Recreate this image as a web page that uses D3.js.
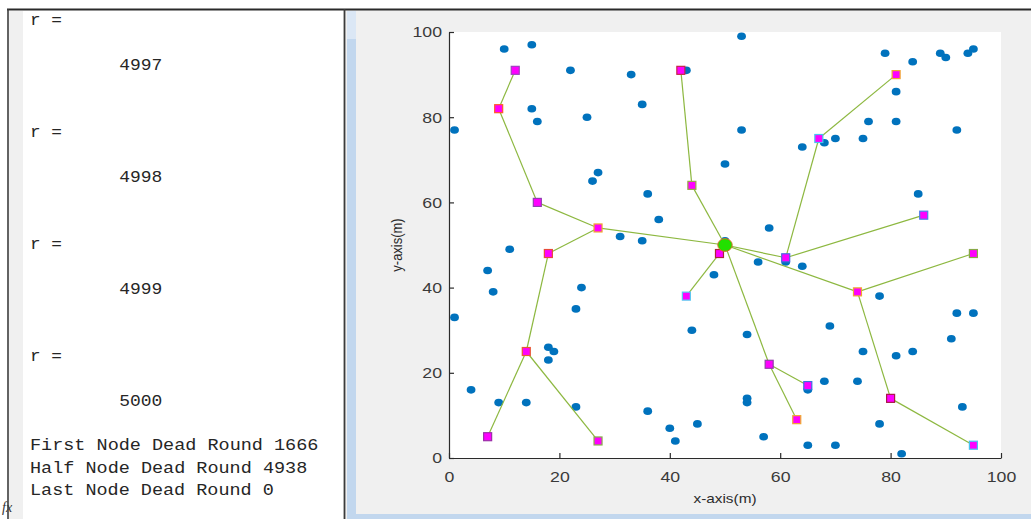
<!DOCTYPE html>
<html>
<head>
<meta charset="utf-8">
<script src="https://cdn.jsdelivr.net/npm/d3@7"></script>
<style>
  html, body { margin: 0; padding: 0; background: #fff; overflow: hidden; }
  svg { display: block; }
</style>
</head>
<body>
<script>
// sensor nodes (blue dots)
var nodeX = [10, 15, 22, 33, 43, 53, 15, 16, 25, 1, 35, 27, 26, 53, 64, 50, 36, 38, 31, 35, 58,
             79, 84, 89, 90, 94, 95, 81, 76, 81, 92, 68, 70, 75, 85, 11, 7, 8, 24, 23, 1, 18, 19, 18,
             4, 9, 14, 23, 56, 64, 48, 44, 54, 54, 54, 36, 40, 45, 41, 57, 65, 65, 78, 92, 95, 69,
             91, 75, 81, 84, 68, 74, 93, 78, 70, 82, 50, 61];
var nodeY = [96, 97, 91, 90, 91, 99, 82, 79, 80, 77, 83, 67, 65, 77, 73, 69, 62, 56, 52, 51, 54,
             95, 93, 95, 94, 95, 96, 86, 79, 79, 77, 74, 75, 75, 62, 49, 44, 39, 40, 35, 33, 26, 25, 23,
             16, 13, 13, 12, 46, 45, 43, 30, 29, 14, 13, 11, 7, 8, 4, 5, 3, 16, 38, 34, 34, 31,
             28, 25, 24, 25, 18, 18, 12, 8, 3, 1, 51, 46];

// cluster heads (magenta squares)
var chX = [12, 9, 16, 27, 18, 14, 7, 27, 42, 44, 81, 67, 61, 86, 74, 95, 80, 95, 58, 65, 63, 49, 43];
var chY = [91, 82, 60, 54, 48, 25, 5, 4, 91, 64, 90, 75, 47, 57, 39, 48, 14, 3, 22, 17, 9, 48, 38];

// base station
var sinkX = 50, sinkY = 50;

// routing links between cluster heads, "S" = base station
var links = [[0, 1], [1, 2], [2, 3], [3, "S"], [3, 4], [4, 5], [5, 6], [5, 7],
             [8, 9], [9, "S"], [10, 11], [11, 12], [12, "S"], [12, 13],
             [14, "S"], [14, 15], [14, 16], [16, 17],
             [18, "S"], [18, 19], [18, 20], [21, "S"], [21, 22]];

var xTicks = [0, 20, 40, 60, 80, 100];
var yTicks = [0, 20, 40, 60, 80, 100];

// command window text, one entry per line
var consoleLines = ["r =", "", "        4997", "", "", "r =", "", "        4998", "", "",
                    "r =", "", "        4999", "", "", "r =", "", "        5000", "",
                    "First Node Dead Round 1666", "Half Node Dead Round 4938", "Last Node Dead Round 0"];

// marker edge colours of the cluster heads
var chEdge = ["#a040c0", "#ff5a2a", "#9040b0", "#f0a830", "#e84a3a", "#e85a30", "#9a30a8", "#88b048",
              "#c42848", "#98a848", "#f0a830", "#48c4f0", "#4a6ae0", "#4a80e8", "#f0a830", "#88a848",
              "#a81848", "#48c4f0", "#9040a8", "#3a72e0", "#f0a830", "#a82838", "#58c8f0"];

var W = 1031, H = 519;
var svg = d3.select("body").append("svg").attr("width", W).attr("height", H);

svg.append("rect").attr("width", W).attr("height", H).attr("fill", "#fff");

// ---- command window panel ----
svg.append("rect").attr("x", 9).attr("y", 11).attr("width", 14).attr("height", H - 11).attr("fill", "#f0f0f0");

var charW = 11.15;
var shown = consoleLines
    .map(function(t, i) { return { t: t, row: i }; })
    .filter(function(d) { return d.t.trim().length > 0; });

svg.append("g").selectAll("text")
    .data(shown)
    .enter().append("text")
    .attr("x", function(d) { return 30 + (d.t.length - d.t.trimStart().length) * charW; })
    .attr("y", function(d) { return 19 + d.row * 22.4; })
    .attr("dy", "0.36em")
    .attr("font-family", "'Liberation Mono', 'DejaVu Sans Mono', monospace")
    .attr("font-size", 16)
    .attr("fill", "#262626")
    .attr("textLength", function(d) { return d.t.trim().length * charW - 1.5; })
    .attr("lengthAdjust", "spacingAndGlyphs")
    .text(function(d) { return d.t.trim(); });

svg.append("text")
    .attr("x", 2).attr("y", 512)
    .attr("font-family", "'Liberation Serif', serif")
    .attr("font-style", "italic")
    .attr("font-size", 14)
    .attr("fill", "#333")
    .text("fx");

// ---- figure panel ----
svg.append("rect").attr("x", 345).attr("y", 10).attr("width", W - 345).attr("height", H - 10).attr("fill", "#f0f0f0");
svg.append("rect").attr("x", 347).attr("y", 11).attr("width", 9).attr("height", H - 11).attr("fill", "#c2d7ee");
svg.append("rect").attr("x", 347).attr("y", 11).attr("width", 9).attr("height", 28).attr("fill", "#dbe7f5");
svg.append("rect").attr("x", 347).attr("y", 514).attr("width", W - 347).attr("height", 5).attr("fill", "#c2d7ee");

// frame lines
svg.append("line").attr("x1", 7).attr("x2", W).attr("y1", 9.5).attr("y2", 9.5).attr("stroke", "#2a2a2a").attr("stroke-width", 2);
svg.append("line").attr("x1", 8).attr("x2", 8).attr("y1", 9).attr("y2", H).attr("stroke", "#3c3c3c").attr("stroke-width", 1.6);
svg.append("line").attr("x1", 344.5).attr("x2", 344.5).attr("y1", 9).attr("y2", H).attr("stroke", "#3c3c3c").attr("stroke-width", 1.8);

// plot area
var x = d3.scaleLinear().domain([0, 100]).range([449, 1001]);
var y = d3.scaleLinear().domain([0, 100]).range([458, 32]);

svg.append("rect").attr("x", 449).attr("y", 32).attr("width", 552).attr("height", 426).attr("fill", "#fff");

var stretch = 1.18;
function widen(sel) {
    sel.selectAll("text").each(function() {
        var w = this.getComputedTextLength();
        d3.select(this).attr("textLength", w * stretch).attr("lengthAdjust", "spacingAndGlyphs");
    });
}

var xAxis = svg.append("g")
    .attr("transform", "translate(0," + 458 + ")")
    .call(d3.axisBottom(x).tickValues(xTicks).tickSizeInner(-5).tickSizeOuter(0).tickPadding(13));
var yAxis = svg.append("g")
    .attr("transform", "translate(" + 449 + ",0)")
    .call(d3.axisLeft(y).tickValues(yTicks).tickSizeInner(-5).tickSizeOuter(0).tickPadding(7));

[xAxis, yAxis].forEach(function(a) {
    a.select(".domain").attr("stroke", "#2b2b2b").attr("stroke-width", 1.2);
    a.selectAll(".tick line").attr("stroke", "#2b2b2b").attr("stroke-width", 1.2);
    a.selectAll("text")
        .attr("font-family", "'Liberation Sans', Arial, sans-serif")
        .attr("font-size", 15)
        .attr("fill", "#3a3a3a");
    widen(a);
});

var xl = svg.append("text")
    .attr("x", 725).attr("y", 498).attr("dy", "0.35em")
    .attr("text-anchor", "middle")
    .attr("font-family", "'Liberation Sans', Arial, sans-serif")
    .attr("font-size", 13)
    .attr("fill", "#2b2b2b")
    .text("x-axis(m)");
xl.attr("textLength", xl.node().getComputedTextLength() * stretch).attr("lengthAdjust", "spacingAndGlyphs");

svg.append("text")
    .attr("transform", "translate(397,245) rotate(-90) scale(1," + stretch + ")")
    .attr("dy", "0.35em")
    .attr("text-anchor", "middle")
    .attr("font-family", "'Liberation Sans', Arial, sans-serif")
    .attr("font-size", 13)
    .attr("fill", "#2b2b2b")
    .text("y-axis(m)");

// ---- marks ----
svg.append("g").selectAll("ellipse")
    .data(nodeX)
    .enter().append("ellipse")
    .attr("cx", function(d) { return x(d); })
    .attr("cy", function(d, i) { return y(nodeY[i]); })
    .attr("rx", 4.4)
    .attr("ry", 3.8)
    .attr("fill", "#0072bd");

function px(k) { return k === "S" ? x(sinkX) : x(chX[k]); }
function py(k) { return k === "S" ? y(sinkY) : y(chY[k]); }

svg.append("g").selectAll("line")
    .data(links)
    .enter().append("line")
    .attr("x1", function(d) { return px(d[0]); })
    .attr("y1", function(d) { return py(d[0]); })
    .attr("x2", function(d) { return px(d[1]); })
    .attr("y2", function(d) { return py(d[1]); })
    .attr("stroke", "#8db840")
    .attr("stroke-width", 1.2);

svg.append("g").selectAll("rect")
    .data(chX)
    .enter().append("rect")
    .attr("x", function(d) { return x(d) - 4; })
    .attr("y", function(d, i) { return y(chY[i]) - 4; })
    .attr("width", 8)
    .attr("height", 8)
    .attr("fill", "#ff00ff")
    .attr("stroke", function(d, i) { return chEdge[i]; })
    .attr("stroke-width", 1.2);

svg.append("ellipse")
    .attr("cx", x(sinkX))
    .attr("cy", y(sinkY))
    .attr("rx", 7.2)
    .attr("ry", 6.4)
    .attr("fill", "#22e000")
    .attr("stroke", "#d8702a")
    .attr("stroke-width", 1);
</script>
</body>
</html>
